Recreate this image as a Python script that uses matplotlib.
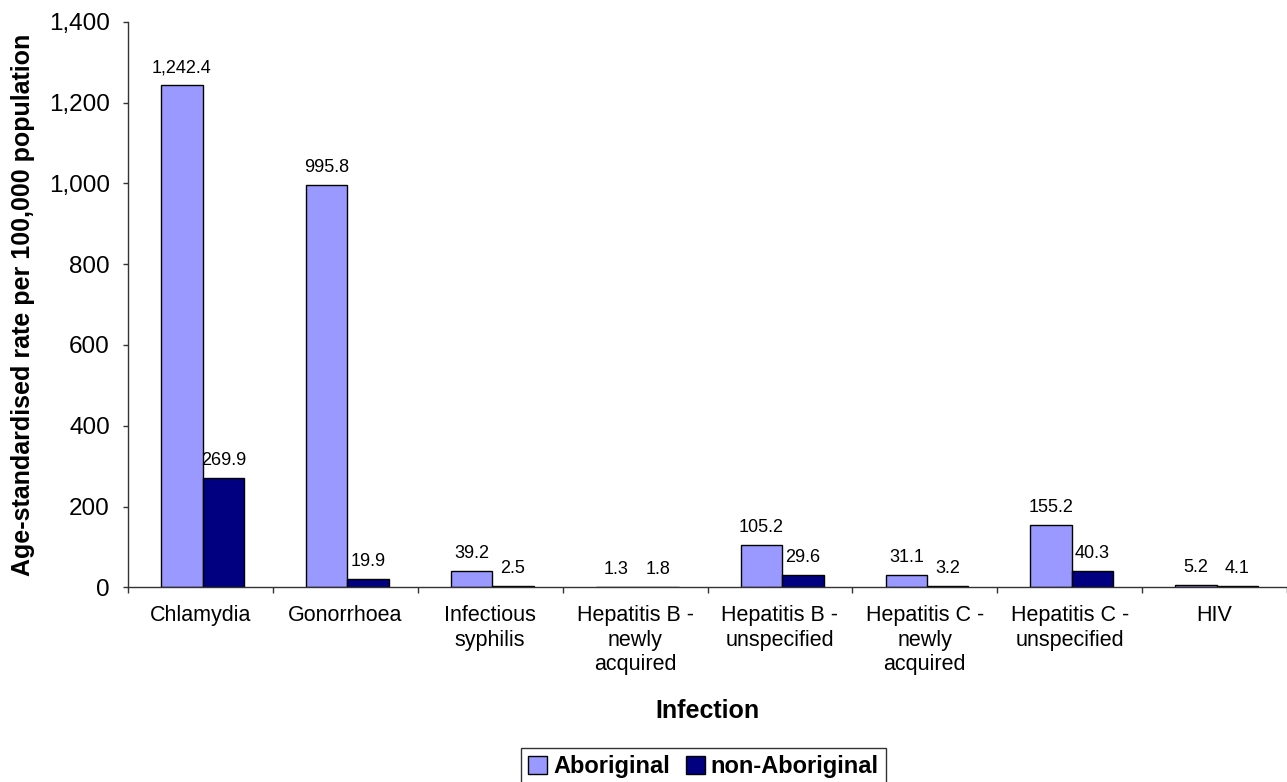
import matplotlib
matplotlib.use('Agg')
import matplotlib.pyplot as plt
import numpy as np
from matplotlib.ticker import FuncFormatter, FixedLocator

plt.rcParams['font.family'] = ['Liberation Sans', 'DejaVu Sans']

categories = ['Chlamydia', 'Gonorrhoea', 'Infectious\nsyphilis', 'Hepatitis B -\nnewly\nacquired',
              'Hepatitis B -\nunspecified', 'Hepatitis C -\nnewly\nacquired', 'Hepatitis C -\nunspecified', 'HIV']
aboriginal = [1242.4, 995.8, 39.2, 1.3, 105.2, 31.1, 155.2, 5.2]
non_aboriginal = [269.9, 19.9, 2.5, 1.8, 29.6, 3.2, 40.3, 4.1]

W, H = 1287, 782
fig = plt.figure(figsize=(W / 100, H / 100), dpi=100)
# axes box in pixels: x 128..1287, y 21.7..587.3
ax = fig.add_axes([128 / W, 1 - 587.3 / H, (1287 - 128) / W, (587.3 - 21.7) / H])

x = np.arange(len(categories))
w = 0.2857
b1 = ax.bar(x - w / 2 + 0.015, aboriginal, w, color='#9999FF', edgecolor='black', linewidth=1.0, label='Aboriginal')
b2 = ax.bar(x + w / 2 + 0.015, non_aboriginal, w, color='#000080', edgecolor='black', linewidth=1.0, label='non-Aboriginal')

for bars in (b1, b2):
    for r in bars:
        v = r.get_height()
        ax.annotate(f'{v:,.1f}', (r.get_x() + r.get_width() / 2, v), xytext=(0, 6.5),
                    textcoords='offset points', ha='center', va='bottom', fontsize=13)

ax.set_xlim(-0.5, len(categories) - 0.5)
ax.set_ylim(0, 1400)
ax.set_yticks(np.arange(0, 1401, 200))
ax.yaxis.set_major_formatter(FuncFormatter(lambda v, p: f'{v:,.0f}'))
ax.set_xticks(x)
ax.set_xticklabels(categories, fontsize=15.5, va='top', linespacing=1.2)
ax.tick_params(axis='x', which='major', length=0, pad=13)
ax.xaxis.set_minor_locator(FixedLocator(np.arange(-0.5, len(categories), 1)))
ax.tick_params(axis='x', which='minor', length=4.3, width=1.0, direction='out', color='#333333')
ax.tick_params(axis='y', labelsize=17.5, length=3.6, width=1.0, pad=9.4, direction='out', color='#333333')

for s in ('top', 'right'):
    ax.spines[s].set_visible(False)
for s in ('left', 'bottom'):
    ax.spines[s].set_color('#333333')
    ax.spines[s].set_linewidth(1.0)

ax.set_xlabel('Infection', fontsize=18, fontweight='bold', va='center')
ax.xaxis.set_label_coords(0.5, -(711 - 587.3) / 565.6)
ax.set_ylabel('Age-standardised rate per 100,000 population', fontsize=18, fontweight='bold', va='center')
ax.yaxis.set_label_coords((22.8 - 128) / 1159, 0.5)

fig.legend(loc='upper left', bbox_to_anchor=(520.7 / W, 1 - 747.5 / H), ncol=2, frameon=True, fancybox=False,
           edgecolor='black', prop={'weight': 'bold', 'size': 17}, handlelength=0.8, handleheight=0.8,
           handletextpad=0.24, columnspacing=0.68, borderpad=0.33, borderaxespad=0)

fig.savefig('out.png', dpi=100)
